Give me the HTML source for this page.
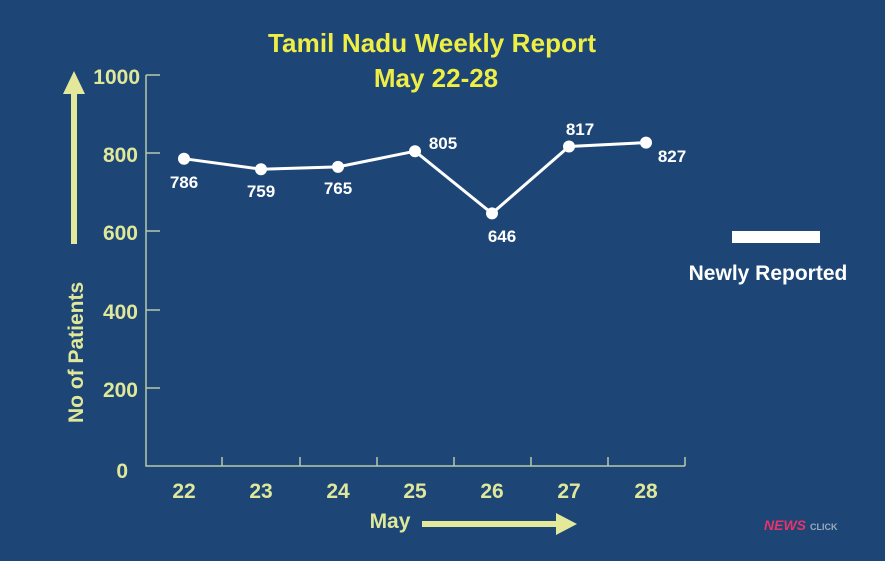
<!DOCTYPE html>
<html><head><style>
html,body{margin:0;padding:0;background:#1d4677;}
svg{display:block}
</style></head><body>
<svg width="885" height="561" viewBox="0 0 885 561" xmlns="http://www.w3.org/2000/svg">
<rect width="885" height="561" fill="#1d4677"/>
<g font-family="Liberation Sans, sans-serif" font-weight="bold">
<text x="432" y="52" fill="#eeee44" font-size="26" text-anchor="middle" textLength="328">Tamil Nadu Weekly Report</text>
<text x="436" y="87" fill="#eeee44" font-size="26" text-anchor="middle">May 22-28</text>
<g stroke="#b8c8a8" stroke-width="1.5" fill="none">
<path d="M146 75 V466 H685"/>
<path d="M146 75 H160 M146 153 H160 M146 231 H160 M146 310 H160 M146 388 H160"/>
<path d="M222 466 V457 M300 466 V457 M377 466 V457 M454 466 V457 M531 466 V457 M608 466 V457 M685 466 V457"/>
</g>
<g fill="#dfe89a" font-size="21" text-anchor="end">
<text x="140" y="84">1000</text><text x="138" y="162">800</text><text x="138" y="240">600</text>
<text x="138" y="319">400</text><text x="138" y="397">200</text><text x="128" y="478">0</text>
</g>
<g fill="#dfe89a" font-size="21" text-anchor="middle">
<text x="184" y="498">22</text><text x="261" y="498">23</text><text x="338" y="498">24</text><text x="415" y="498">25</text>
<text x="492" y="498">26</text><text x="569" y="498">27</text><text x="646" y="498">28</text>
<text x="390" y="528">May</text>
</g>
<rect x="71" y="92" width="6" height="152" fill="#e3e89a"/>
<polygon points="63,94 74,71 85,94" fill="#e3e89a"/>
<text transform="translate(83,423) rotate(-90)" fill="#dfe89a" font-size="21">No of Patients</text>
<rect x="422" y="521" width="138" height="6" fill="#e3e89a"/>
<polygon points="556,513 577,524 556,535" fill="#e3e89a"/>
<polyline points="184,158.7 261,169.2 338,166.9 415,151.2 492,213.4 569,146.5 646,142.6" fill="none" stroke="#fff" stroke-width="3"/>
<g fill="#fff">
<circle cx="184" cy="158.7" r="6"/><circle cx="261" cy="169.2" r="6"/><circle cx="338" cy="166.9" r="6"/>
<circle cx="415" cy="151.2" r="6"/><circle cx="492" cy="213.4" r="6"/><circle cx="569" cy="146.5" r="6"/><circle cx="646" cy="142.6" r="6"/>
</g>
<g fill="#fff" font-size="17" text-anchor="middle">
<text x="184" y="188">786</text><text x="261" y="197">759</text><text x="338" y="194">765</text>
<text x="443" y="149">805</text><text x="502" y="242">646</text><text x="580" y="135">817</text><text x="672" y="162">827</text>
</g>
<rect x="732" y="231" width="88" height="12" fill="#fff"/>
<text x="768" y="280" fill="#fff" font-size="21" text-anchor="middle">Newly Reported</text>
<text x="764" y="530" fill="#e8336a" font-size="14" font-style="italic">NEWS</text>
<text x="810" y="530" fill="#9aaabb" font-size="9">CLICK</text>
</g>
</svg>
</body></html>
